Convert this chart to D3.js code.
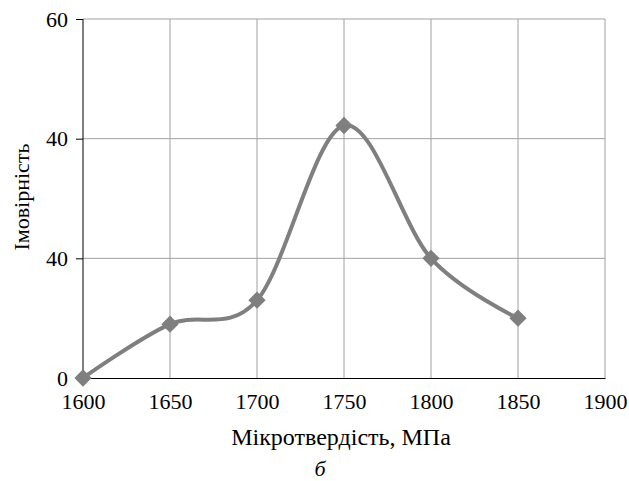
<!DOCTYPE html>
<html>
<head>
<meta charset="utf-8">
<script src="https://cdn.jsdelivr.net/npm/d3@7"></script>
<style>
  body { margin: 0; background: #fff; }
  svg text { font-family: "Liberation Serif", "Times New Roman", Times, "DejaVu Serif", serif; fill: #000; }
</style>
</head>
<body>
<div id="chart"></div>
<script>
// data
const hardness = [1600, 1650, 1700, 1750, 1800, 1850];
const probability = [0, 9, 13, 42.2, 20, 10];
const xTicks = [1600, 1650, 1700, 1750, 1800, 1850, 1900];
const yTicks = [0, 20, 40, 60];
const yTickLabels = ["0", "40", "40", "60"]; // as printed in the source
const xTitle = "Мікротвердість, МПа";
const yTitle = "Імовірність";
const caption = "б";

const serif = '"Liberation Serif", "Times New Roman", Times, "DejaVu Serif", serif';

const w = 629;
const h = 481;
const margin = { top: 19, right: 24, bottom: 103, left: 83 };

const svg = d3.select("#chart")
    .append("svg")
    .attr("width", w)
    .attr("height", h);

const xScale = d3.scaleLinear()
    .domain([1600, 1900])
    .range([margin.left, w - margin.right]);

const yScale = d3.scaleLinear()
    .domain([0, 60])
    .range([h - margin.bottom, margin.top]);

// grid
svg.append("g")
    .selectAll("line")
    .data(yTicks.slice(1))
    .enter()
    .append("line")
    .attr("x1", margin.left)
    .attr("x2", w - margin.right)
    .attr("y1", d => yScale(d))
    .attr("y2", d => yScale(d))
    .attr("stroke", "#a0a0a0")
    .attr("stroke-width", 1);

svg.append("g")
    .selectAll("line")
    .data(xTicks.slice(1))
    .enter()
    .append("line")
    .attr("x1", d => xScale(d))
    .attr("x2", d => xScale(d))
    .attr("y1", margin.top)
    .attr("y2", h - margin.bottom)
    .attr("stroke", "#a0a0a0")
    .attr("stroke-width", 1);

// axes
const yAxis = d3.axisLeft(yScale)
    .tickValues(yTicks)
    .tickSize(7)
    .tickFormat((d, i) => yTickLabels[i]);

const xAxis = d3.axisBottom(xScale)
    .tickValues(xTicks)
    .tickSize(0)
    .tickPadding(15)
    .tickFormat(d3.format("d"));

const gx = svg.append("g")
    .attr("transform", "translate(0," + (h - margin.bottom) + ")")
    .call(xAxis);
gx.attr("font-family", serif).attr("font-size", 22);
gx.select(".domain").attr("stroke", "#000");
gx.selectAll("text").style("font-family", serif).style("font-size", "22px");

const gy = svg.append("g")
    .attr("transform", "translate(" + margin.left + ",0)")
    .call(yAxis);
gy.attr("font-family", serif).attr("font-size", 22);
gy.select(".domain").attr("stroke", "#000").attr("d", "M0," + margin.top + "V" + (h - margin.bottom));
gy.selectAll(".tick line").attr("stroke", "#000");
gy.selectAll("text")
    .attr("x", -15)
    .style("font-family", serif)
    .style("font-size", "22px");

// curve
const points = hardness.map((d, i) => [d, probability[i]]);

const line = d3.line()
    .x(d => xScale(d[0]))
    .y(d => yScale(d[1]))
    .curve(d3.curveCardinal.tension(0));

svg.append("path")
    .datum(points)
    .attr("d", line)
    .attr("fill", "none")
    .attr("stroke", "#7f7f7f")
    .attr("stroke-width", 4);

svg.selectAll(".marker")
    .data(points)
    .enter()
    .append("path")
    .attr("class", "marker")
    .attr("d", d3.symbol().type(d3.symbolDiamond2).size(190))
    .attr("transform", d => "translate(" + xScale(d[0]) + "," + yScale(d[1]) + ")")
    .attr("fill", "#7f7f7f");

// titles
svg.append("text")
    .attr("x", 341)
    .attr("y", 445)
    .attr("text-anchor", "middle")
    .style("font-family", serif)
    .style("font-size", "24px")
    .text(xTitle);

svg.append("text")
    .attr("x", 320)
    .attr("y", 476)
    .attr("text-anchor", "middle")
    .style("font-family", serif)
    .style("font-size", "22px")
    .style("font-style", "italic")
    .text(caption);

svg.append("text")
    .attr("transform", "translate(29,197) rotate(-90)")
    .attr("text-anchor", "middle")
    .style("font-family", serif)
    .style("font-size", "22px")
    .text(yTitle);
</script>
</body>
</html>
